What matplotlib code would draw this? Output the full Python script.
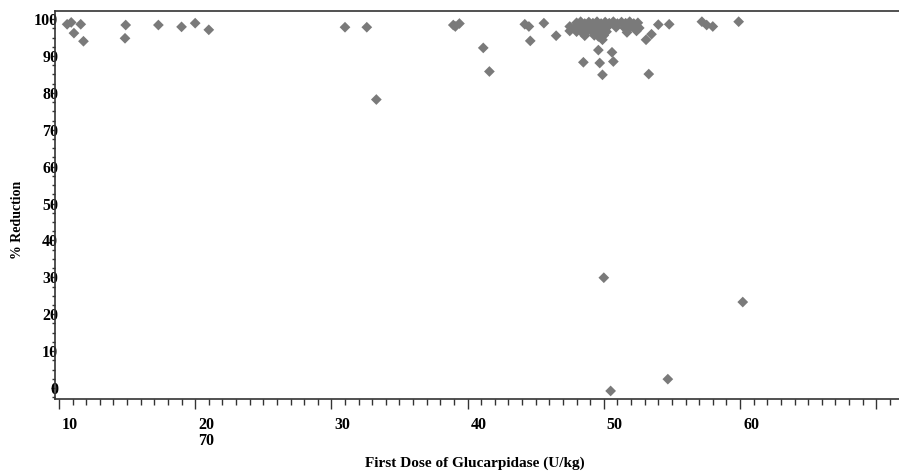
import matplotlib
matplotlib.use("Agg")
import matplotlib.pyplot as plt
from matplotlib.transforms import ScaledTranslation
from matplotlib.ticker import MultipleLocator

# ---- data ----
dose = [10.6, 10.9, 11.6, 11.1, 11.8, 14.9, 14.85, 17.3, 19.0, 20.0, 21.0,
        31.0, 32.6, 33.3, 38.95, 39.4, 39.1,
        41.15, 41.6, 44.2, 44.5, 44.6, 45.6, 46.5,
        47.5, 47.5,
        # dense cluster
        48.0, 48.3, 48.6, 48.9, 49.2, 49.5, 49.8, 50.1, 50.4, 50.7, 51.0, 51.3, 51.6, 51.9, 52.2, 52.5,
        47.9, 48.2, 48.5, 48.8, 49.1, 49.4, 49.7, 50.0, 50.3, 50.9, 51.5, 52.0, 52.6,
        48.0, 48.4, 48.8, 49.2, 49.5, 49.8, 50.2, 51.7, 52.4,
        48.6, 49.3, 49.6, 50.0, 49.9,
        # others
        54.0, 54.8, 53.5, 53.1, 49.6, 50.6, 48.5, 49.7, 50.7, 49.9, 53.3,
        57.2, 57.55, 58.0, 59.9,
        50.0, 54.7, 50.5, 60.2]
reduction = [98.6, 99.1, 98.6, 96.2, 94.0, 98.4, 94.8, 98.4, 97.9, 98.9, 97.1,
             97.8, 97.8, 78.2, 98.4, 98.8, 98.0,
             92.2, 85.8, 98.6, 98.0, 94.1, 98.9, 95.5,
             98.0, 96.8,
             99.0, 99.3, 98.8, 99.2, 98.9, 99.3, 98.8, 99.2, 98.9, 99.3, 98.8, 99.2, 98.9, 99.3, 98.8, 99.0,
             97.8, 97.6, 98.0, 97.7, 98.0, 97.6, 97.9, 97.7, 98.0, 97.8, 97.7, 98.0, 97.6,
             96.6, 96.4, 96.7, 96.5, 96.8, 96.4, 96.6, 96.4, 96.8,
             95.5, 95.6, 95.3, 95.6, 94.4,
             98.5, 98.6, 95.9, 94.4, 91.6, 91.0, 88.3, 88.1, 88.5, 84.9, 85.1,
             99.3, 98.4, 98.0, 99.3,
             29.9, 2.4, -0.8, 23.3]
x_ticks = [10, 20, 30, 40, 50, 60, 70]
x_tick_labels = ["10", "20\n70", "30", "40", "50", "60", ""]
y_ticks = [0, 10, 20, 30, 40, 50, 60, 70, 80, 90, 100]

W, H = 899, 471
fig = plt.figure(figsize=(W / 100, H / 100), dpi=100)
ax = fig.add_axes([55 / W, 1 - 399 / H, 1 - 55 / W, (399 - 11) / H])

serif = ["Liberation Serif", "DejaVu Serif"]

ax.scatter(dose, reduction, marker="D", s=30, color="#7a7a7a",
           edgecolors="none", zorder=3)

ax.set_xlim(9.71, 71.67)
ax.set_ylim(-2.98, 102.2)

ax.set_xticks(x_ticks)
ax.set_xticklabels(x_tick_labels, fontfamily=serif, fontweight="bold",
                   fontsize=11.5, linespacing=1.0, va="top")
ax.xaxis.set_minor_locator(MultipleLocator(1))
ax.set_yticks(y_ticks)
ax.set_yticklabels([str(v) for v in y_ticks], fontfamily=serif,
                   fontweight="bold", fontsize=11.5)
ax.yaxis.set_minor_locator(MultipleLocator(2.5))

ax.tick_params(axis="x", which="major", direction="out", length=7, width=1,
               color="#333333", pad=6)
ax.tick_params(axis="x", which="minor", direction="out", length=4.5, width=1,
               color="#333333")
ax.tick_params(axis="y", which="major", direction="out", length=3, width=1,
               color="#333333", pad=-5.3)
ax.tick_params(axis="y", which="minor", direction="out", length=2, width=1,
               color="#333333")

offset = ScaledTranslation(11 / 100, 0, fig.dpi_scale_trans)
for lab in ax.get_xticklabels():
    lab.set_transform(lab.get_transform() + offset)

for s in ["left", "bottom", "top"]:
    ax.spines[s].set_color("#333333")
    ax.spines[s].set_linewidth(1.2)
ax.spines["right"].set_visible(False)

fig.text(475 / W, 1 - 463 / H, "First Dose of Glucarpidase (U/kg)",
         ha="center", va="center", fontfamily=serif, fontweight="bold",
         fontsize=11)
fig.text(18 / W, 1 - 220 / H, "% Reduction", ha="center", va="center",
         rotation=90, fontfamily=serif, fontweight="bold", fontsize=10)

fig.savefig("out.png", dpi=100)
